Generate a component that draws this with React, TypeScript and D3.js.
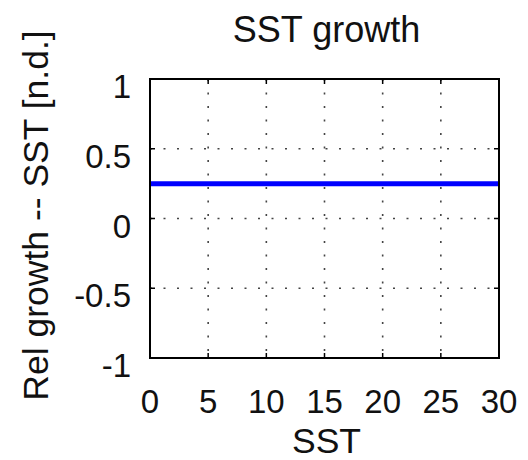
import React from "react";
import * as d3 from "d3";

// Relative growth response to sea-surface temperature
const sst = [0, 5, 10, 15, 20, 25, 30];
const relGrowth = [0.25, 0.25, 0.25, 0.25, 0.25, 0.25, 0.25];
const xTicks = [0, 5, 10, 15, 20, 25, 30];
const yTicks = [-1, -0.5, 0, 0.5, 1];

const W = 528;
const H = 460;
const M = { left: 150, right: 29, top: 79, bottom: 102 };
const FONT = "'Liberation Sans', Arial, Helvetica, sans-serif";
const FS = 33;
const FS_LABEL = 35.5;

export default function App() {
  const x = d3.scaleLinear().domain([0, 30]).range([M.left, W - M.right]);
  const y = d3.scaleLinear().domain([-1, 1]).range([H - M.bottom, M.top]);
  const line = d3
    .line<number>()
    .x((_, i) => x(sst[i]))
    .y((d) => y(d));

  const x0 = x.range()[0];
  const x1 = x.range()[1];
  const y0 = y.range()[0];
  const y1 = y.range()[1];
  const tickLen = 5;

  return (
    <svg
      width={W}
      height={H}
      style={{ position: "absolute", left: 0, top: 0, background: "#fff" }}
      fontFamily={FONT}
    >
      <rect x={0} y={0} width={W} height={H} fill="#fff" />
      {/* dotted grid */}
      {xTicks.slice(1, -1).map((t) => (
        <line
          key={"gx" + t}
          x1={x(t)}
          x2={x(t)}
          y1={y1}
          y2={y0}
          stroke="#444"
          strokeWidth={1.6}
          strokeDasharray="2 11.5"
        />
      ))}
      {yTicks.slice(1, -1).map((t) => (
        <line
          key={"gy" + t}
          x1={x0}
          x2={x1}
          y1={y(t)}
          y2={y(t)}
          stroke="#444"
          strokeWidth={1.6}
          strokeDasharray="2 11.5"
        />
      ))}
      {/* inward ticks on all sides */}
      {xTicks.map((t) => (
        <g key={"tx" + t}>
          <line x1={x(t)} x2={x(t)} y1={y0} y2={y0 - tickLen} stroke="#000" strokeWidth={1.5} />
          <line x1={x(t)} x2={x(t)} y1={y1} y2={y1 + tickLen} stroke="#000" strokeWidth={1.5} />
        </g>
      ))}
      {yTicks.map((t) => (
        <g key={"ty" + t}>
          <line x1={x0} x2={x0 + tickLen} y1={y(t)} y2={y(t)} stroke="#000" strokeWidth={1.5} />
          <line x1={x1} x2={x1 - tickLen} y1={y(t)} y2={y(t)} stroke="#000" strokeWidth={1.5} />
        </g>
      ))}
      {/* data line */}
      <path d={line(relGrowth) ?? ""} fill="none" stroke="#0000ff" strokeWidth={5} />
      {/* axes box */}
      <rect x={x0} y={y1} width={x1 - x0} height={y0 - y1} fill="none" stroke="#000" strokeWidth={2} />
      {/* tick labels */}
      {xTicks.map((t) => (
        <text key={"lx" + t} x={x(t)} y={413} fontSize={FS} textAnchor="middle" fill="#111">
          {t}
        </text>
      ))}
      {yTicks.map((t) => (
        <text key={"ly" + t} x={131} y={y(t) + 19} fontSize={FS} textAnchor="end" fill="#111">
          {t}
        </text>
      ))}
      {/* titles */}
      <text x={(x0 + x1) / 2 + 2} y={42} fontSize={36} textAnchor="middle" fill="#111">
        SST growth
      </text>
      <text x={(x0 + x1) / 2 + 2} y={453} fontSize={FS_LABEL} textAnchor="middle" fill="#111">
        SST
      </text>
      <text
        transform={`translate(48,${(y0 + y1) / 2 - 3}) rotate(-90)`}
        fontSize={FS_LABEL}
        textAnchor="middle"
        fill="#111"
      >
        Rel growth -- SST [n.d.]
      </text>
    </svg>
  );
}
